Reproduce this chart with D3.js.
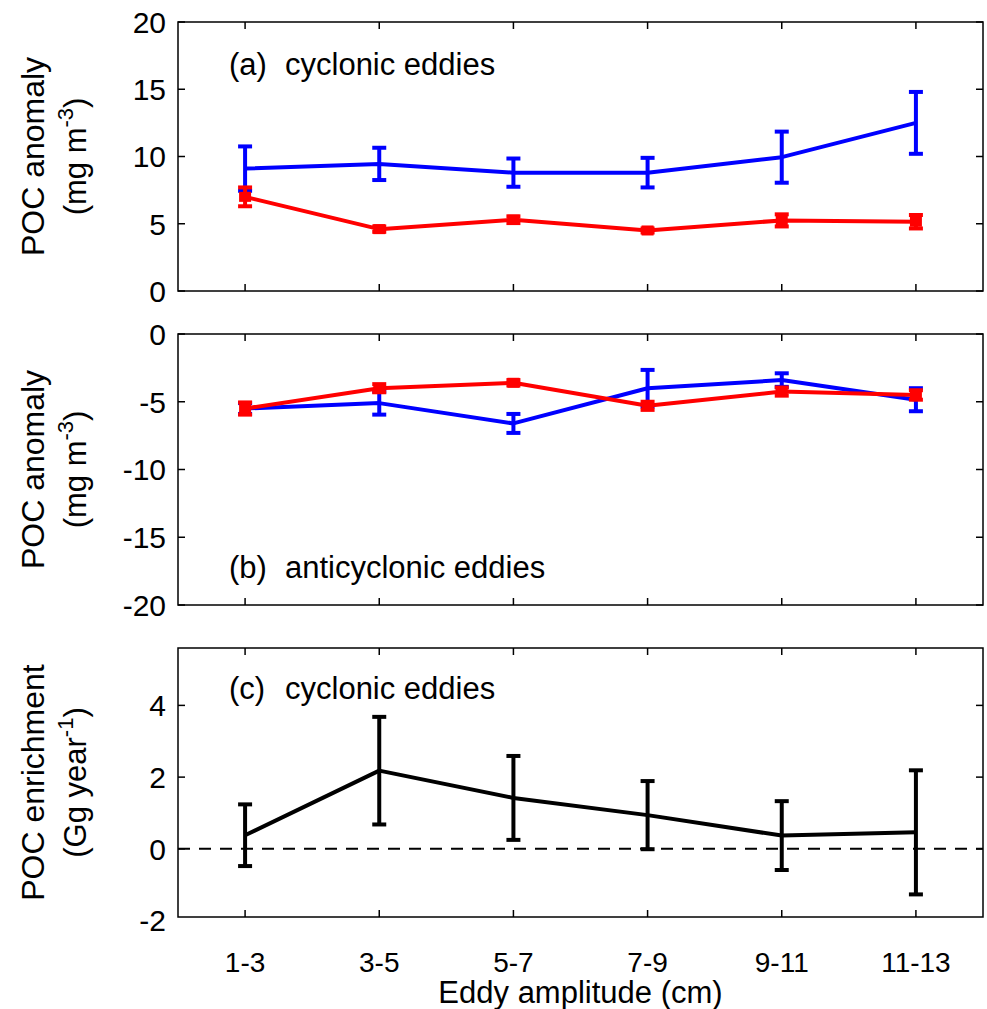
<!DOCTYPE html>
<html>
<head>
<meta charset="utf-8">
<script src="https://cdn.jsdelivr.net/npm/d3@7/dist/d3.min.js"></script>
<style>
html,body{margin:0;padding:0;background:#fff;}
svg{display:block;}
text{font-family:"Liberation Sans",Arial,Helvetica,sans-serif;fill:#000;}
</style>
</head>
<body>
<svg id="chart" width="987" height="1009"></svg>
<script>
// ---- data ----
const categories = ["1-3","3-5","5-7","7-9","9-11","11-13"];
// panel (a) cyclonic eddies
const aBlue    = [9.1, 9.45, 8.8, 8.8, 9.95, 12.5];
const aBlueErr = [1.65, 1.2, 1.05, 1.1, 1.9, 2.3];
const aRed     = [7.0, 4.6, 5.3, 4.5, 5.25, 5.15];
const aRedErr  = [0.7, 0.2, 0.25, 0.15, 0.45, 0.5];
// panel (b) anticyclonic eddies
const bBlue    = [-5.5, -5.1, -6.6, -4.0, -3.4, -4.85];
const bBlueErr = [0.4, 0.85, 0.7, 1.35, 0.5, 0.85];
const bRed     = [-5.5, -4.0, -3.6, -5.3, -4.25, -4.5];
const bRedErr  = [0.45, 0.3, 0.2, 0.3, 0.3, 0.35];
// panel (c) POC enrichment, cyclonic eddies
const cVal     = [0.38, 2.18, 1.42, 0.94, 0.37, 0.46];
const cErr     = [0.86, 1.5, 1.17, 0.95, 0.96, 1.73];
// tick labels
const aTicks = [0, 5, 10, 15, 20];
const bTicks = [-20, -15, -10, -5, 0];
const cTicks = [-2, 0, 2, 4];

const svg = d3.select("#chart");
const L = 178, R = 983;
const x = d3.scaleLinear().domain([0.5, 6.5]).range([L, R]);
const idx = categories.map((c, i) => i + 1);

const panels = [
  {top: 22, bottom: 291, domain: [0, 20], ticks: aTicks,
   series: [{v: aBlue, e: aBlueErr, color: "#0000ff", marker: false},
            {v: aRed, e: aRedErr, color: "#ff0000", marker: true}],
   tag: "(a)", title: "cyclonic eddies", titleY: 75,
   lab1: "POC anomaly", lab2: ["(mg m", "-3", ")"]},
  {top: 334, bottom: 605, domain: [-20, 0], ticks: bTicks,
   series: [{v: bBlue, e: bBlueErr, color: "#0000ff", marker: false},
            {v: bRed, e: bRedErr, color: "#ff0000", marker: true}],
   tag: "(b)", title: "anticyclonic eddies", titleY: 578,
   lab1: "POC anomaly", lab2: ["(mg m", "-3", ")"]},
  {top: 648, bottom: 917, domain: [-1.9, 5.6], ticks: cTicks,
   series: [{v: cVal, e: cErr, color: "#000000", marker: false}],
   tag: "(c)", title: "cyclonic eddies", titleY: 699, zeroLine: true,
   lab1: "POC enrichment", lab2: ["(Gg year", "-1", ")"]}
];

const tickLen = 7;
panels.forEach(p => {
  const y = d3.scaleLinear().domain(p.domain).range([p.bottom, p.top]);
  const g = svg.append("g");

  // frame
  g.append("rect").attr("x", L).attr("y", p.top).attr("width", R - L).attr("height", p.bottom - p.top)
    .attr("fill", "none").attr("stroke", "#000").attr("stroke-width", 1.5);

  // y ticks (inward, both sides) + labels
  p.ticks.forEach(t => {
    const yy = y(t);
    if (yy >= p.top - 0.5 && yy <= p.bottom + 0.5) {
      g.append("line").attr("x1", L).attr("x2", L + tickLen).attr("y1", yy).attr("y2", yy)
        .attr("stroke", "#000").attr("stroke-width", 1.5);
      g.append("line").attr("x1", R).attr("x2", R - tickLen).attr("y1", yy).attr("y2", yy)
        .attr("stroke", "#000").attr("stroke-width", 1.5);
    }
    g.append("text").attr("x", L - 12).attr("y", yy).attr("dy", "0.36em")
      .attr("text-anchor", "end").attr("font-size", 30).text(t);
  });
  // x ticks (inward top & bottom)
  idx.forEach(i => {
    const xx = x(i);
    g.append("line").attr("x1", xx).attr("x2", xx).attr("y1", p.bottom).attr("y2", p.bottom - tickLen)
      .attr("stroke", "#000").attr("stroke-width", 1.5);
    g.append("line").attr("x1", xx).attr("x2", xx).attr("y1", p.top).attr("y2", p.top + tickLen)
      .attr("stroke", "#000").attr("stroke-width", 1.5);
  });

  if (p.zeroLine) {
    g.append("line").attr("x1", L).attr("x2", R).attr("y1", y(0)).attr("y2", y(0))
      .attr("stroke", "#000").attr("stroke-width", 2).attr("stroke-dasharray", "12,9");
  }

  // series
  p.series.forEach(s => {
    const line = d3.line().x((d, i) => x(i + 1)).y(d => y(d));
    g.append("path").datum(s.v).attr("d", line).attr("fill", "none")
      .attr("stroke", s.color).attr("stroke-width", 4).attr("stroke-linejoin", "round");
    s.v.forEach((v, i) => {
      const xx = x(i + 1), y1 = y(v + s.e[i]), y2 = y(v - s.e[i]);
      g.append("line").attr("x1", xx).attr("x2", xx).attr("y1", y1).attr("y2", y2)
        .attr("stroke", s.color).attr("stroke-width", 4);
      [y1, y2].forEach(yy => g.append("line").attr("x1", xx - 7).attr("x2", xx + 7)
        .attr("y1", yy).attr("y2", yy).attr("stroke", s.color).attr("stroke-width", 4));
      if (s.marker) {
        g.append("rect").attr("x", xx - 6).attr("y", y(v) - 5).attr("width", 12).attr("height", 10)
          .attr("fill", s.color);
      }
    });
  });

  // annotation
  g.append("text").attr("x", 229).attr("y", p.titleY).attr("font-size", 31).text(p.tag);
  g.append("text").attr("x", 285).attr("y", p.titleY).attr("font-size", 31).text(p.title);

  // y labels
  const cy = (p.top + p.bottom) / 2;
  g.append("text").attr("transform", `translate(44,${cy}) rotate(-90)`)
    .attr("text-anchor", "middle").attr("font-size", 32).text(p.lab1);
  const t2 = g.append("text").attr("transform", `translate(86,${cy}) rotate(-90)`)
    .attr("text-anchor", "middle").attr("font-size", 31);
  t2.append("tspan").text(p.lab2[0]);
  t2.append("tspan").attr("dy", -13).attr("font-size", 22).text(p.lab2[1]);
  t2.append("tspan").attr("dy", 13).text(p.lab2[2]);
});

// x tick labels
categories.forEach((c, i) => {
  svg.append("text").attr("x", x(i + 1)).attr("y", 972).attr("text-anchor", "middle")
    .attr("font-size", 28).text(c);
});
svg.append("text").attr("x", (L + R) / 2).attr("y", 1003).attr("text-anchor", "middle")
  .attr("font-size", 31).text("Eddy amplitude (cm)");
</script>
</body>
</html>
